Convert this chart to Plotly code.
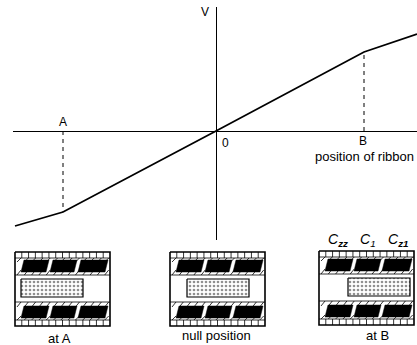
import plotly.graph_objects as go

W = 417
H = 345

# V against position of ribbon
position = [-201, -153, 0, 148, 201]
voltage = [-95, -81, 0, 79, 97]
pos_a = [-153, -153]
drop_a = [0, -81]
pos_b = [148, 148]
drop_b = [0, 79]

panel_names = ['at A', 'null position', 'at B']
panel_left = [15, 170, 319]
panel_top = [252, 252, 251]
ribbon_left = [6, 17, 29]
ribbon_width = 62

# inside one panel, measured from its top left corner
panel_w = 95
panel_h = 74
block_left = [6, 35, 63]
block_w = [25, 24, 27]

fig = go.Figure()


def add_lines(xs, ys, width=1.0):
    fig.add_trace(go.Scatter(x=xs, y=ys, mode='lines', xaxis='x2', yaxis='y2',
                             line=dict(color='black', width=width), hoverinfo='skip'))


def add_panel(left, top, rib):
    # frame and the two inner walls
    add_lines([left, left + panel_w, left + panel_w, left, left],
              [top, top, top + panel_h, top + panel_h, top], 1.6)
    xs, ys = [], []
    for y in [6, 23, 50, 68]:
        xs += [left, left + panel_w, None]
        ys += [top + y, top + y, None]
    # bricks
    for i in range(1, 14):
        x = left + i * panel_w / 14
        xs += [x, x, None, x, x, None]
        ys += [top, top + 6, None, top + 68, top + panel_h, None]
    # hatching round the blocks
    for i in range(0, 13):
        x = left + 2 + i * panel_w / 13
        if x + 4 > left + panel_w:
            continue
        for y0, y1 in [(23, 18), (10, 6), (55, 50), (68, 64)]:
            xs += [x, x + 4, None]
            ys += [top + y0, top + y1, None]
    add_lines(xs, ys, 0.8)
    # black blocks, top row and bottom row
    for bx, bw in zip(block_left, block_w):
        for y0, y1 in [(8, 20), (54, 66)]:
            fig.add_trace(go.Scatter(
                x=[left + bx, left + bx + 3, left + bx + bw + 3, left + bx + bw, left + bx],
                y=[top + y1, top + y0, top + y0, top + y1, top + y1],
                mode='lines', fill='toself', fillcolor='black', xaxis='x2', yaxis='y2',
                line=dict(color='black', width=0.5), hoverinfo='skip'))
    # ribbon
    fig.add_trace(go.Scatter(
        x=[left + rib, left + rib + ribbon_width, left + rib + ribbon_width, left + rib, left + rib],
        y=[top + 27, top + 27, top + 45, top + 45, top + 27],
        mode='lines', fill='toself', fillcolor='white', xaxis='x2', yaxis='y2',
        fillpattern=dict(shape='.', fgcolor='#222222', bgcolor='white', size=4, solidity=0.35),
        line=dict(color='black', width=1.2), hoverinfo='skip'))


for left, top, rib in zip(panel_left, panel_top, ribbon_left):
    add_panel(left, top, rib)

# dashed drops to A and B, then the curve
fig.add_trace(go.Scatter(x=pos_a, y=drop_a, mode='lines', line=dict(color='black', width=1, dash='4px,4px')))
fig.add_trace(go.Scatter(x=pos_b, y=drop_b, mode='lines', line=dict(color='black', width=1, dash='4px,4px')))
fig.add_trace(go.Scatter(x=position, y=voltage, mode='lines', line=dict(color='black', width=1.8)))

font = dict(family='Liberation Sans', size=12, color='black')
big_font = dict(family='Liberation Sans', size=13, color='black')
labels = [('A', -153, 9), ('B', 147, -10), ('0', 9, -12), ('V', -11, 119)]
for text, x, y in labels:
    fig.add_annotation(x=x, y=y, text=text, showarrow=False, font=font)
fig.add_annotation(x=148, y=-26, text='position of ribbon', showarrow=False, font=big_font)

caption_x = [59, 216, 377]
caption_y = [338, 335, 335]
for text, x, y in zip(panel_names, caption_x, caption_y):
    fig.add_annotation(x=x, y=y, xref='x2', yref='y2', text=text, showarrow=False, font=big_font)

cap_labels = ['C<sub><b>zz</b></sub>', 'C<sub>1</sub>', 'C<sub><b>z1</b></sub>']
cap_x = [338, 368, 398]
for text, x in zip(cap_labels, cap_x):
    fig.add_annotation(x=x, y=240, xref='x2', yref='y2', text='<i>' + text + '</i>',
                       showarrow=False, font=dict(family='Liberation Sans', size=14, color='black'))

fig.update_layout(
    width=W, height=H, margin=dict(l=0, r=0, t=0, b=0), showlegend=False,
    paper_bgcolor='white', plot_bgcolor='rgba(0,0,0,0)',
    xaxis=dict(domain=[13 / W, 1], range=[-203, 201], showgrid=False, showticklabels=False,
               ticks='', zeroline=True, zerolinecolor='black', zerolinewidth=1.2),
    yaxis=dict(domain=[(H - 240) / H, (H - 7) / H], range=[-109, 124], showgrid=False,
               showticklabels=False, ticks='', zeroline=True, zerolinecolor='black', zerolinewidth=1.2),
    xaxis2=dict(domain=[0, 1], range=[0, W], visible=False, anchor='y2'),
    yaxis2=dict(domain=[0, 1], range=[H, 0], visible=False, anchor='x2'),
)

# the page margin would push the chart off the window
fig.write_html("out.html", config=dict(displayModeBar=False),
               post_script="document.body.style.margin='0';document.documentElement.style.overflow='hidden';")
